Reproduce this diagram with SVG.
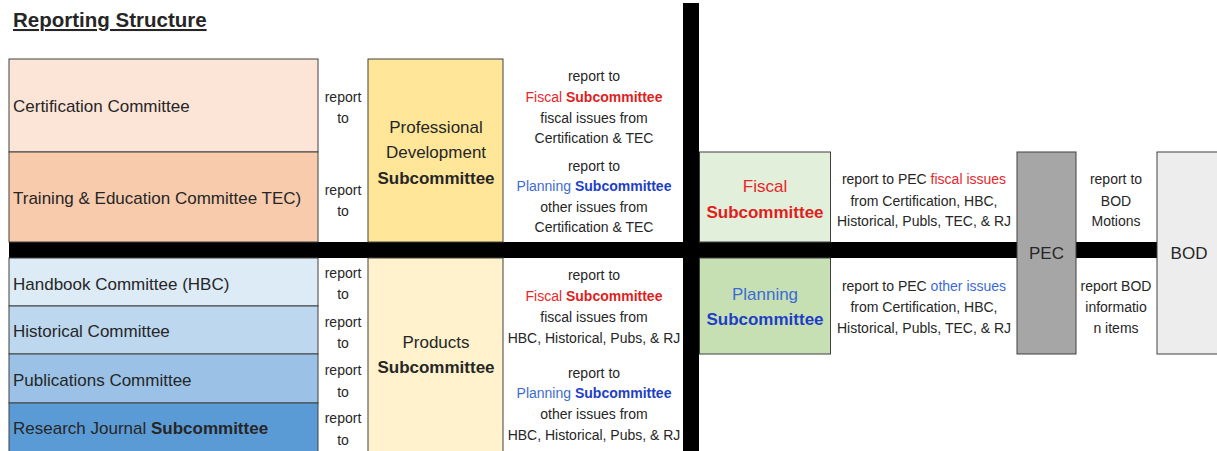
<svg xmlns="http://www.w3.org/2000/svg" width="1217" height="451" viewBox="0 0 1217 451">
<style>
text{font-family:"Liberation Sans",Arial,sans-serif;fill:#262626}
.lb{font-size:17px}
.sm{font-size:14px}
.c{text-anchor:middle}
.b{font-weight:bold}
.box{stroke:#404040;stroke-width:1}
.red{fill:#E8262B}
.redb{fill:#E01E1E;font-weight:bold}
.blu{fill:#3D6BD6}
.blub{fill:#1E3EC6;font-weight:bold}
.bar{fill:#000}
</style>
<rect width="1217" height="451" fill="#fff"/>
<text x="13" y="27" class="b" style="font-size:20.5px;text-decoration:underline">Reporting Structure</text>

<g id="connectors">
<rect class="bar" x="9" y="242" width="1150" height="16"/>
<rect class="bar" x="683" y="3" width="16" height="448"/>
</g>

<g id="cert"><rect class="box" x="9" y="59" width="309" height="93" fill="#FCE4D6"/><text class="lb" x="13" y="112">Certification Committee</text></g>
<g id="tec"><rect class="box" x="9" y="152" width="309" height="90" fill="#F8CBAD"/><text class="lb" x="13" y="204">Training &amp; Education Committee TEC)</text></g>
<g id="hbc"><rect class="box" x="9" y="258" width="309" height="48" fill="#DDEBF7"/><text class="lb" x="13" y="290">Handbook Committee (HBC)</text></g>
<g id="hist"><rect class="box" x="9" y="306" width="309" height="48" fill="#BDD7EE"/><text class="lb" x="13" y="337">Historical Committee</text></g>
<g id="pubs"><rect class="box" x="9" y="354" width="309" height="49" fill="#9BC2E6"/><text class="lb" x="13" y="386">Publications Committee</text></g>
<g id="rj"><rect class="box" x="9" y="403" width="309" height="50" fill="#5B9BD5"/><text class="lb" x="13" y="434">Research Journal <tspan class="b">Subcommittee</tspan></text></g>

<g id="reportto">
<text class="sm c" x="343" y="102">report</text><text class="sm c" x="343" y="123">to</text>
<text class="sm c" x="343" y="195">report</text><text class="sm c" x="343" y="216">to</text>
<text class="sm c" x="343" y="278">report</text><text class="sm c" x="343" y="299">to</text>
<text class="sm c" x="343" y="327">report</text><text class="sm c" x="343" y="348">to</text>
<text class="sm c" x="343" y="375">report</text><text class="sm c" x="343" y="397">to</text>
<text class="sm c" x="343" y="423">report</text><text class="sm c" x="343" y="445">to</text>
</g>

<g id="pd"><rect class="box" x="368" y="59" width="135" height="183" fill="#FFE699"/>
<text class="lb c" x="436" y="133">Professional</text><text class="lb c" x="436" y="158">Development</text><text class="lb c b" x="436" y="184">Subcommittee</text></g>
<g id="products"><rect class="box" x="368" y="258" width="135" height="195" fill="#FFF2CC"/>
<text class="lb c" x="436" y="348">Products</text><text class="lb c b" x="436" y="373">Subcommittee</text></g>

<g id="midtext">
<text class="sm c" x="594" y="81">report to</text>
<text class="sm c" x="594" y="102"><tspan class="red">Fiscal </tspan><tspan class="redb">Subcommittee</tspan></text>
<text class="sm c" x="594" y="123">fiscal issues from</text>
<text class="sm c" x="594" y="143">Certification &amp; TEC</text>
<text class="sm c" x="594" y="171">report to</text>
<text class="sm c" x="594" y="191"><tspan class="blu">Planning </tspan><tspan class="blub">Subcommittee</tspan></text>
<text class="sm c" x="594" y="212">other issues from</text>
<text class="sm c" x="594" y="232">Certification &amp; TEC</text>
<text class="sm c" x="594" y="280">report to</text>
<text class="sm c" x="594" y="301"><tspan class="red">Fiscal </tspan><tspan class="redb">Subcommittee</tspan></text>
<text class="sm c" x="594" y="322">fiscal issues from</text>
<text class="sm c" x="594" y="343">HBC, Historical, Pubs, &amp; RJ</text>
<text class="sm c" x="594" y="378">report to</text>
<text class="sm c" x="594" y="398"><tspan class="blu">Planning </tspan><tspan class="blub">Subcommittee</tspan></text>
<text class="sm c" x="594" y="419">other issues from</text>
<text class="sm c" x="594" y="440">HBC, Historical, Pubs, &amp; RJ</text>
</g>

<g id="fiscal"><rect class="box" x="699.5" y="152" width="131" height="90" fill="#E2EFDA"/>
<text class="lb c red" x="765" y="192">Fiscal</text><text class="lb c redb" x="765" y="218">Subcommittee</text></g>
<g id="planning"><rect class="box" x="699.5" y="258" width="131" height="96" fill="#C6E0B4"/>
<text class="lb c blu" x="765" y="300">Planning</text><text class="lb c blub" x="765" y="325">Subcommittee</text></g>

<g id="righttext">
<text class="sm c" x="924" y="184">report to PEC <tspan class="red">fiscal issues</tspan></text>
<text class="sm c" x="924" y="206">from Certification, HBC,</text>
<text class="sm c" x="924" y="226">Historical, Publs, TEC, &amp; RJ</text>
<text class="sm c" x="924" y="291">report to PEC <tspan class="blu">other issues</tspan></text>
<text class="sm c" x="924" y="312">from Certification, HBC,</text>
<text class="sm c" x="924" y="333">Historical, Publs, TEC, &amp; RJ</text>
</g>

<g id="pec"><rect class="box" x="1017" y="152" width="59" height="202" fill="#A6A6A6"/><text class="lb c" x="1046.5" y="259">PEC</text></g>

<g id="bodtext">
<text class="sm c" x="1116" y="184">report to</text>
<text class="sm c" x="1116" y="206">BOD</text>
<text class="sm c" x="1116" y="226">Motions</text>
<text class="sm c" x="1116" y="291">report BOD</text>
<text class="sm c" x="1116" y="312">informatio</text>
<text class="sm c" x="1116" y="333">n items</text>
</g>

<g id="bod"><rect class="box" x="1157" y="152" width="70" height="202" fill="#EDEDED"/><text class="lb c" x="1189" y="259">BOD</text></g>
</svg>
